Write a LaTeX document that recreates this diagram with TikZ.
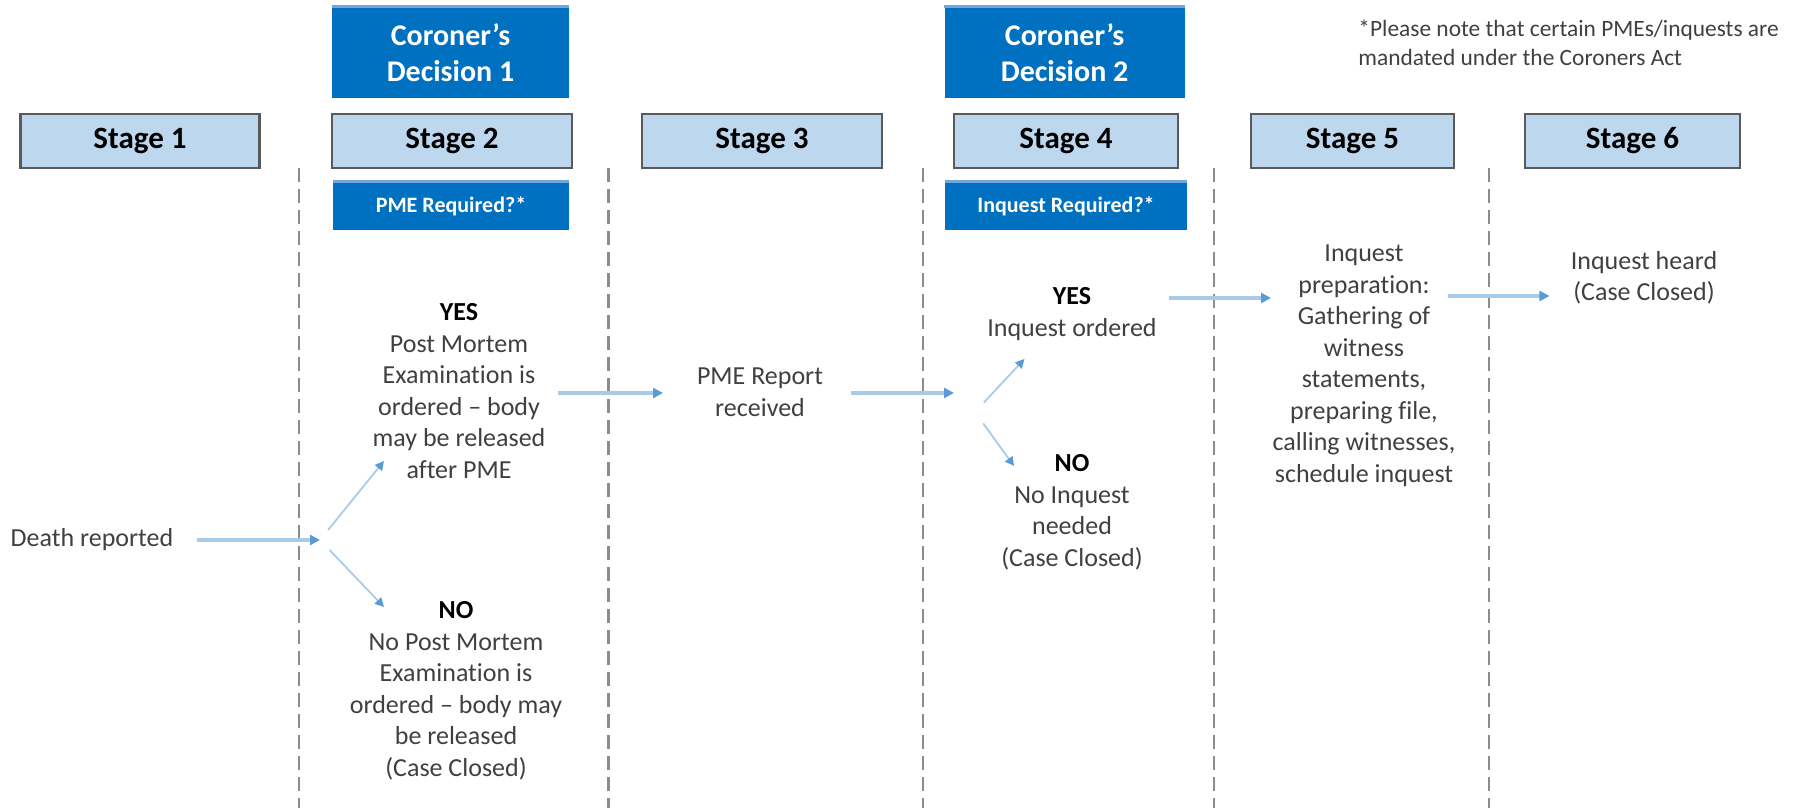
\documentclass[tikz,border=0pt]{standalone}
\usepackage{fontspec}
\setmainfont{Carlito}[Ligatures=NoCommon]
\usetikzlibrary{arrows.meta}
\usetikzlibrary{positioning}
\usetikzlibrary{calc}
\definecolor{decblue}{HTML}{0070C0}
\definecolor{decedge}{HTML}{6FA8DC}
\definecolor{stagefill}{HTML}{BDD7EE}
\definecolor{stageline}{HTML}{5A5A5A}
\definecolor{flowline}{HTML}{A9CBEB}
\definecolor{flowtip}{HTML}{5B9BD5}
\definecolor{txtgray}{HTML}{404040}
\definecolor{laneline}{HTML}{8C8C8C}
\tikzstyle{stagebox}=[rectangle,fill=stagefill,draw=stageline,line width=1.2pt,minimum height=27pt,inner sep=0pt,font=\fontsize{15.5}{18}\selectfont\bfseries]
\tikzstyle{decision}=[rectangle,fill=decblue,minimum width=118.5pt,minimum height=45.5pt,inner sep=0pt,align=center,text=white,font=\fontsize{15}{18.3}\selectfont\bfseries]
\tikzstyle{question}=[rectangle,fill=decblue,minimum height=24pt,inner sep=0pt,text=white,font=\fontsize{11}{13}\selectfont\bfseries]
\tikzstyle{topedge}=[draw=decedge,line width=1.5pt]
\tikzstyle{lane}=[draw=laneline,line width=1.1pt,dash pattern=on 7pt off 3.5pt]
\tikzstyle{body}=[align=center,text=txtgray,inner sep=3pt,font=\fontsize{13}{15.75}\selectfont]
\tikzstyle{flow}=[draw=flowline,line width=1.6pt,-{Triangle[length=5pt,width=5pt,color=flowtip]}]
\tikzstyle{branch}=[draw=flowline,line width=0.9pt,-{Triangle[length=4.5pt,width=4.5pt,color=flowtip]}]

\begin{document}
\begin{tikzpicture}[x=0.5pt,y=-0.5pt]
  \useasboundingbox (0,0) rectangle (1796,808);

  % lanes between the stages
  \foreach \x in {299,608.5,923,1214,1489}
    \draw[lane] (\x,168) -- (\x,808);

  % stage headers
  \foreach \pos/\name/\boxw/\label in {{(140,141)}/s1/119.5/1, {(452,141)}/s2/120/2, {(762,141)}/s3/120/3, {(1066,141)}/s4/112/4, {(1352.5,141)}/s5/101.5/5, {(1632.5,141)}/s6/107.5/6}
    \node[stagebox,minimum width=\boxw pt] (\name) at \pos {Stage \label};

  % coroner's decisions
  \node[decision] (dec1) at (450.5,52.5) {Coroner’s\\Decision 1};
  \node[decision,minimum width=120pt] (dec2) at (1064.6,52.5) {Coroner’s\\Decision 2};
  \node[question,minimum width=118pt] (q1) at (451,206) {PME Required?*};
  \node[question,minimum width=121pt] (q2) at (1066,206) {Inquest Required?*};
  \foreach \name in {dec1,dec2,q1,q2}
    \draw[topedge] (\name.north west) -- (\name.north east);

  \node[body,align=left,anchor=west,font=\fontsize{11.7}{14.5}\selectfont] (note) at (1352,42.5) {*Please note that certain PMEs/inquests are\\mandated under the Coroners Act};

  % stage texts
  \node[body] (death) at (92,540) {Death reported};
  \node[body] (yes1) at (459,391) {{\color{black}\bfseries YES}\\Post Mortem\\Examination is\\ordered – body\\may be released\\after PME};
  \node[body] (no1) at (456,691) {{\color{black}\bfseries NO}\\No Post Mortem\\Examination is\\ordered – body may\\be released\\(Case Closed)};
  \node[body] (pmerep) at (760,392) {PME Report\\received};
  \node[body] (yes2) at (1072,314) {{\color{black}\bfseries YES}\\Inquest ordered};
  \node[body] (no2) at (1072,512.5) {{\color{black}\bfseries NO}\\No Inquest\\needed\\(Case Closed)};
  \node[body] (prep) at (1364,366) {Inquest\\preparation:\\Gathering of\\witness\\statements,\\preparing file,\\calling witnesses,\\schedule inquest};
  \node[body] (heard) at (1644,278) {Inquest heard\\(Case Closed)};

  % arrow ends
  \coordinate (fork1) at (320,540);
  \coordinate (fork2) at (975,412);
  \coordinate (yes1tip) at (384,461);
  \coordinate (no1tip) at (384,607);
  \coordinate (pmetip) at (663,393);
  \coordinate (dec2tip) at (954,393);
  \coordinate (yes2tip) at (1024.5,359);
  \coordinate (no2tip) at (1014,466);
  \coordinate (preptip) at (1271,298);
  \coordinate (prepout) at (1448,296);

  % connectors
  \draw[flow,shorten <=8.5pt] (death.east) -- (fork1);
  \draw[branch,shorten <=6.5pt] (fork1) -- (yes1tip);
  \draw[branch,shorten <=7pt] (fork1) -- (no1tip);
  \draw[flow,shorten <=3pt] (yes1.east |- pmetip) -- (pmetip);
  \draw[flow,shorten <=11pt] (pmerep.east |- dec2tip) -- (dec2tip);
  \draw[branch,shorten <=6.5pt] (fork2) -- (yes2tip);
  \draw[branch,shorten <=7pt] (fork2) -- (no2tip);
  \draw[flow,shorten <=3pt] (yes2.east |- preptip) -- (preptip);
  \draw[flow,shorten >=7.5pt] (prepout) -- (heard.west |- prepout);
\end{tikzpicture}
\end{document}
